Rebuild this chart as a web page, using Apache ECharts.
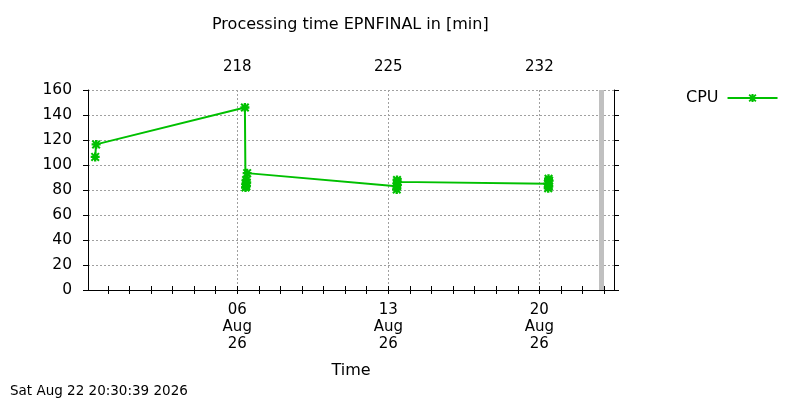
<!DOCTYPE html>
<html>
<head>
<meta charset="utf-8">
<script src="https://cdn.jsdelivr.net/npm/echarts@6/dist/echarts.min.js"></script>
<style>
  html, body { margin: 0; padding: 0; background: #fff; }
  #chart { width: 800px; height: 400px; }
</style>
</head>
<body>
<div id="chart"></div>
<script>
// processing time samples (UTC), minutes
const cpuTimes = [
  '2026-07-30 10:00', '2026-07-30 11:00',
  '2026-08-06 08:30', '2026-08-06 09:10', '2026-08-06 09:30', '2026-08-06 09:50',
  '2026-08-06 10:10', '2026-08-06 10:30', '2026-08-06 11:00',
  '2026-08-13 09:00', '2026-08-13 09:20', '2026-08-13 09:40', '2026-08-13 10:00', '2026-08-13 10:20',
  '2026-08-20 09:30', '2026-08-20 09:50', '2026-08-20 10:10', '2026-08-20 10:30', '2026-08-20 10:50'
];
const cpuValues = [
  106.5, 116.5,
  146, 82, 85, 88,
  83, 86, 93.5,
  83, 80.5, 88, 84, 86.5,
  85, 81.5, 89, 83, 87.5
];
const labelDates = ['2026-08-06', '2026-08-13', '2026-08-20'];
const rangeStart = '2026-07-30 02:00';
const rangeEnd = '2026-08-23 11:00';
const nowStamp = '2026-08-22 20:30:39';
const stampText = 'Sat Aug 22 20:30:39 2026';
const yTicks = [0, 20, 40, 60, 80, 100, 120, 140, 160];

const MONTHS = ['Jan', 'Feb', 'Mar', 'Apr', 'May', 'Jun', 'Jul', 'Aug', 'Sep', 'Oct', 'Nov', 'Dec'];
const YEAR0 = Date.UTC(2026, 0, 1);
const DAY = 86400000;
const FONT = 'DejaVu Sans';

// day of year as fractional number (1 = Jan 1 00:00)
function dayOfYear(s) {
  const d = new Date(s.replace(' ', 'T') + (s.length > 10 ? 'Z' : 'T00:00Z'));
  return (d.getTime() - YEAR0) / DAY + 1;
}

function dateLabel(v) {
  const d = new Date(YEAR0 + (Math.round(v) - 1) * DAY);
  const dd = String(d.getUTCDate()).padStart(2, '0');
  return dd + '\n' + MONTHS[d.getUTCMonth()] + '\n' + String(d.getUTCFullYear()).slice(2);
}

const xMin = dayOfYear(rangeStart);
const xMax = dayOfYear(rangeEnd);
const labelDays = labelDates.map(dayOfYear);
const dailyTicks = [];
for (let d = Math.ceil(xMin); d <= Math.floor(xMax); d++) dailyTicks.push(d);

const cpuData = cpuTimes.map((t, i) => [dayOfYear(t), cpuValues[i]]);

// gnuplot-like asterisk marker (+ and x), drawn bold
const star = 'path://M0,3.7L10,3.7L10,6.3L0,6.3Z M3.7,0L6.3,0L6.3,10L3.7,10Z ' +
  'M0,1.6L1.6,0L10,8.4L8.4,10Z M8.4,0L10,1.6L1.6,10L0,8.4Z M2.6,2.6L7.4,2.6L7.4,7.4L2.6,7.4Z';

const chart = echarts.init(document.getElementById('chart'));

const gridDash = { color: '#a0a0a0', width: 1, type: [2, 2] };
const blackLine = { show: true, lineStyle: { color: '#000', width: 1 } };

chart.setOption({
  animation: false,
  textStyle: { fontFamily: FONT },
  title: {
    text: 'Processing time EPNFINAL in [min]',
    left: 207,
    top: 12,
    textStyle: { fontFamily: FONT, fontSize: 16, fontWeight: 'normal', color: '#000' }
  },
  legend: {
    left: 681,
    top: 85,
    align: 'right',
    itemWidth: 50,
    itemHeight: 10,
    textStyle: { fontFamily: FONT, fontSize: 16, color: '#000', padding: [0, 4, 0, 0] },
    data: ['CPU']
  },
  graphic: [{
    type: 'text',
    left: 10,
    top: 384,
    style: { text: stampText, fontFamily: FONT, fontSize: 13.5, fill: '#000' }
  }],
  grid: { left: 88, right: 186, top: 90, bottom: 110 },
  xAxis: [{
    type: 'value',
    position: 'bottom',
    min: xMin,
    max: xMax,
    axisLine: blackLine,
    axisTick: { show: true, length: 4, customValues: dailyTicks, lineStyle: { color: '#000' } },
    axisLabel: {
      customValues: labelDays,
      formatter: dateLabel,
      color: '#000', fontSize: 15, lineHeight: 17, margin: 12, fontFamily: FONT
    },
    splitLine: { show: false },
    name: 'Time',
    nameLocation: 'middle',
    nameGap: 73,
    nameTextStyle: { color: '#000', fontSize: 16, fontFamily: FONT }
  }, {
    type: 'value',
    position: 'top',
    min: xMin,
    max: xMax,
    axisLine: blackLine,
    axisTick: { show: true, length: 4, customValues: dailyTicks, lineStyle: { color: '#000' } },
    axisLabel: {
      customValues: labelDays,
      formatter: v => String(Math.round(v)),
      color: '#000', fontSize: 15, margin: 15, fontFamily: FONT
    },
    splitLine: { show: false }
  }, {
    type: 'value',
    position: 'bottom',
    min: xMin,
    max: xMax,
    axisLine: { show: false },
    axisTick: { show: false, customValues: labelDays },
    axisLabel: { show: false, customValues: labelDays },
    splitLine: { show: true, lineStyle: gridDash }
  }],
  yAxis: [{
    type: 'value',
    position: 'left',
    min: 0,
    max: 160,
    interval: 20,
    axisLine: blackLine,
    axisTick: { show: true, length: 5, lineStyle: { color: '#000' } },
    axisLabel: { color: '#000', fontSize: 15.5, margin: 16, fontFamily: FONT, customValues: yTicks },
    splitLine: { show: true, lineStyle: gridDash }
  }, {
    type: 'value',
    position: 'right',
    min: 0,
    max: 160,
    interval: 20,
    axisLine: blackLine,
    axisTick: { show: true, length: 5, lineStyle: { color: '#000' } },
    axisLabel: { show: false },
    splitLine: { show: false }
  }],
  series: [{
    name: 'CPU',
    type: 'line',
    xAxisIndex: 0,
    yAxisIndex: 0,
    data: cpuData,
    symbol: star,
    symbolSize: 9,
    showAllSymbol: true,
    lineStyle: { color: '#00c000', width: 2 },
    itemStyle: { color: '#00c000' },
    markLine: {
      silent: true,
      symbol: ['none', 'none'],
      label: { show: false },
      lineStyle: { color: '#c0c0c0', width: 5, type: 'solid' },
      data: [{ xAxis: dayOfYear(nowStamp) }]
    }
  }]
});
</script>
</body>
</html>
